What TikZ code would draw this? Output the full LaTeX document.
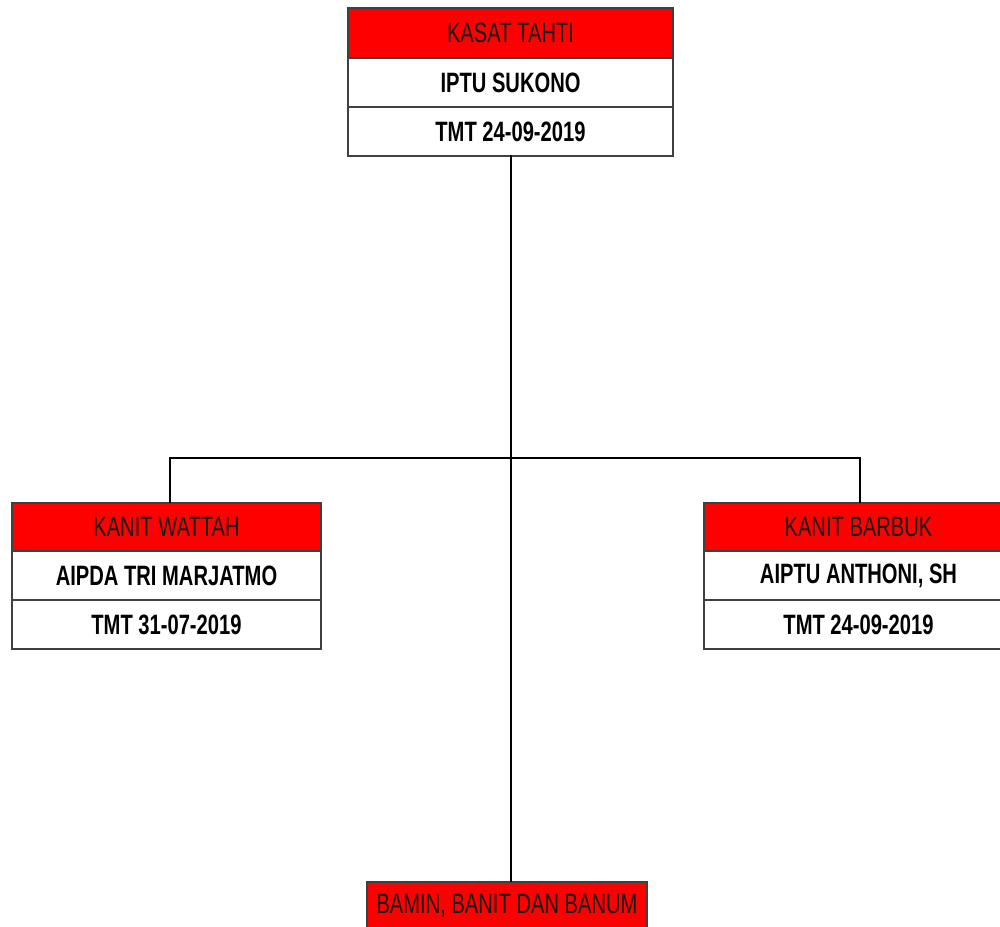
\documentclass[tikz,border=0pt]{standalone}
\usepackage{fontspec}
\setmainfont{Liberation Sans}[FakeStretch=0.72]
\begin{document}
\begin{tikzpicture}[x=0.75pt,y=-0.75pt,
  cell/.style={draw=black!75,line width=1.1pt,inner sep=0pt,outer sep=0pt,
    minimum width=231.75pt,font=\fontsize{21}{24}\selectfont},
  hdr/.style={cell,fill=red,text=black!90,minimum height=36pt},
  row/.style={cell,fill=white,font=\fontsize{21}{24}\selectfont\bfseries,minimum height=36.75pt},
  link/.style={draw=black,line width=1.5pt}]
\useasboundingbox (0,0) rectangle (1000,926);
% top box
\node[hdr,minimum width=243.75pt,minimum height=37.5pt] (kasat) at (510.5,33) {KASAT TAHTI};
\node[row,minimum width=243.75pt,anchor=north] (sukono) at (kasat.south) {IPTU SUKONO};
\node[row,minimum width=243.75pt,anchor=north] (tmttop) at (sukono.south) {TMT 24-09-2019};
% left box
\node[hdr] (wattah) at (166.5,527) {KANIT WATTAH};
\node[row,anchor=north] (tri) at (wattah.south) {AIPDA TRI MARJATMO};
\node[row,anchor=north] (tmtleft) at (tri.south) {TMT 31-07-2019};
% right box
\node[hdr] (barbuk) at (858.5,527) {KANIT BARBUK};
\node[row,anchor=north] (anthoni) at (barbuk.south) {AIPTU ANTHONI, SH};
\node[row,anchor=north] (tmtright) at (anthoni.south) {TMT 24-09-2019};
% bottom box
\node[hdr,minimum width=210pt] (bamin) at (507,906) {BAMIN, BANIT DAN BANUM};
% connectors
\coordinate (topout) at (511,155);
\coordinate (j) at (511,458);
\coordinate (lin) at (170,503);
\coordinate (rin) at (860,503);
\coordinate (bin) at (511,882);
\draw[link] (topout) -- (bin);
\draw[link] (lin) |- (j) -| (rin);
\end{tikzpicture}
\end{document}
